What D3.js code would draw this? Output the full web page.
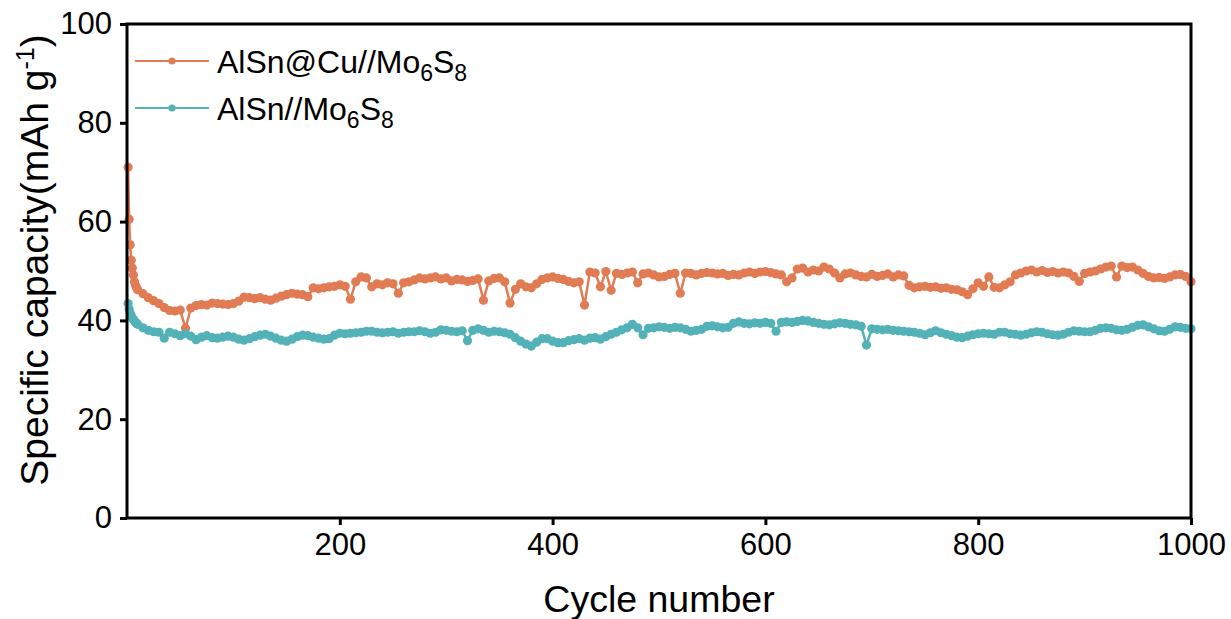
<!DOCTYPE html>
<html>
<head>
<meta charset="utf-8">
<script src="https://cdn.jsdelivr.net/npm/d3@7"></script>
<style>
  body { margin: 0; background: #fff; }
  text { font-family: Arial, "Liberation Sans", sans-serif; fill: #000; }
</style>
</head>
<body>
<div class="container"></div>
<script>
const width = 1231, height = 619;
const margin = {left: 127, right: 40, top: 24, bottom: 101};

// cycle numbers: first few cycles one by one, then every 5th cycle
const cycles = [1, 2, 3, 4, 5, 6, 7, 8, 9].concat(d3.range(10, 1001, 5));

const cuCapacity = [
  71.0, 60.5, 55.3, 52.2, 50.6, 49.2, 47.8, 47.1, 46.6,
  46.2, 45.4, 44.6, 44.0, 43.4, 42.6, 42.0, 41.9, 42.1, 38.4,
  42.5, 43.0, 43.2, 43.1, 43.5, 43.4, 43.3, 43.2, 43.4, 43.9,
  44.7, 44.6, 44.4, 44.6, 44.3, 44.1, 44.5, 44.9, 45.2, 45.5,
  45.3, 45.2, 44.8, 46.6, 46.4, 46.6, 46.8, 46.9, 47.2, 46.9,
  44.3, 47.8, 48.8, 48.6, 46.8, 47.4, 47.2, 47.6, 47.4, 45.5,
  47.6, 47.8, 48.2, 48.6, 48.4, 48.6, 48.8, 48.4, 48.6, 48.0,
  48.3, 48.2, 47.9, 48.1, 48.4, 44.1, 48.0, 48.5, 48.6, 47.8,
  43.5, 46.3, 47.4, 46.8, 46.6, 47.4, 48.3, 48.6, 48.8, 48.5,
  48.3, 47.9, 47.6, 47.8, 43.1, 49.8, 49.6, 46.8, 49.9, 46.1,
  49.5, 49.3, 49.6, 49.8, 47.6, 49.4, 49.6, 49.2, 48.8, 48.9,
  49.3, 49.5, 45.5, 49.6, 49.5, 49.2, 49.5, 49.7, 49.6, 49.4,
  49.5, 49.1, 49.3, 49.2, 49.6, 49.8, 49.5, 49.8, 49.9, 49.7,
  49.4, 49.2, 47.8, 48.6, 50.4, 50.6, 49.8, 50.2, 50.0, 50.8,
  50.4, 49.6, 48.6, 49.4, 49.6, 49.2, 48.9, 48.8, 49.3, 48.9,
  49.1, 49.4, 48.8, 49.2, 49.0, 47.1, 46.6, 46.8, 46.9, 46.7,
  46.8, 46.5, 46.6, 46.3, 46.2, 45.8, 45.2, 46.4, 47.6, 46.9,
  48.8, 46.7, 46.6, 47.2, 47.8, 49.2, 49.6, 50.0, 50.2, 49.8,
  50.1, 49.7, 49.9, 49.6, 49.8, 49.6, 48.9, 47.9, 49.5, 49.8,
  50.0, 50.4, 50.8, 51.0, 48.8, 51.0, 50.7, 50.8, 50.2, 49.5,
  48.9, 48.6, 48.7, 48.5, 48.8, 49.2, 49.3, 48.9, 47.8
];

const snCapacity = [
  43.4, 42.3, 41.5, 40.9, 40.5, 40.2, 39.9, 39.6, 39.4,
  39.2, 38.5, 38.0, 37.7, 37.6, 36.4, 37.6, 37.3, 36.9, 37.3,
  36.8, 36.1, 36.6, 36.9, 36.5, 36.4, 36.6, 36.8, 36.6, 36.2,
  36.0, 36.3, 36.7, 37.0, 37.2, 36.8, 36.4, 36.0, 35.8, 36.2,
  36.7, 37.0, 36.9, 36.6, 36.4, 36.2, 36.3, 37.0, 37.4, 37.3,
  37.4, 37.5, 37.6, 37.8, 37.8, 37.6, 37.5, 37.6, 37.7, 37.4,
  37.6, 37.7, 37.7, 37.9, 37.7, 37.4, 37.6, 38.1, 38.0, 37.8,
  37.7, 37.9, 35.9, 38.0, 38.3, 38.0, 37.6, 37.8, 37.7, 37.5,
  37.2, 36.5, 35.8, 35.2, 34.8, 35.6, 36.3, 36.3, 35.8, 35.5,
  35.5, 35.9, 36.1, 36.3, 36.0, 36.4, 36.5, 36.2, 36.7, 37.2,
  37.6, 38.1, 38.5, 39.2, 38.5, 37.1, 38.4, 38.5, 38.7, 38.6,
  38.4, 38.6, 38.5, 38.2, 37.8, 38.0, 38.2, 38.8, 38.9, 38.7,
  38.5, 38.6, 39.4, 39.7, 39.4, 39.3, 39.5, 39.4, 39.6, 39.4,
  37.8, 39.6, 39.7, 39.6, 39.8, 40.0, 39.9, 39.6, 39.4, 39.2,
  39.1, 39.3, 39.5, 39.4, 39.2, 39.1, 38.8, 35.0, 38.3, 38.2,
  38.1, 38.2, 38.0, 37.9, 37.8, 37.7, 37.6, 37.4, 37.1, 37.5,
  37.9, 37.5, 37.2, 36.9, 36.6, 36.5, 36.8, 37.1, 37.3, 37.4,
  37.3, 37.2, 37.6, 37.6, 37.3, 37.2, 37.0, 37.2, 37.5, 37.7,
  37.6, 37.3, 37.1, 37.0, 37.2, 37.6, 37.9, 37.8, 37.7, 37.7,
  38.0, 38.4, 38.5, 38.4, 38.1, 38.0, 38.2, 38.6, 39.0, 39.1,
  38.7, 38.3, 37.9, 37.8, 38.2, 38.7, 38.6, 38.4, 38.3
];

const xTicks = [200, 400, 600, 800, 1000];
const yTicks = [0, 20, 40, 60, 80, 100];

const series = [
  {name: "AlSn@Cu//Mo", sub1: "6", mid: "S", sub2: "8", values: cuCapacity, color: "#E17B53"},
  {name: "AlSn//Mo", sub1: "6", mid: "S", sub2: "8", values: snCapacity, color: "#52B2B8"}
];

const svg = d3.select(".container")
    .append("svg")
    .attr("width", width)
    .attr("height", height);

const x = d3.scaleLinear().domain([0, 1000]).range([margin.left, width - margin.right]);
const y = d3.scaleLinear().domain([0, 100]).range([height - margin.bottom, margin.top]);

const line = d3.line()
    .x((d, i) => x(cycles[i]))
    .y(d => y(d));

// data
series.forEach(s => {
    const g = svg.append("g");
    g.append("path")
        .datum(s.values)
        .attr("fill", "none")
        .attr("stroke", s.color)
        .attr("stroke-width", 2.5)
        .attr("d", line);
    g.selectAll("circle")
        .data(s.values)
        .enter()
        .append("circle")
        .attr("cx", (d, i) => x(cycles[i]))
        .attr("cy", d => y(d))
        .attr("r", 4.6)
        .attr("fill", s.color);
});

// frame
svg.append("rect")
    .attr("x", x(0))
    .attr("y", y(100))
    .attr("width", x(1000) - x(0))
    .attr("height", y(0) - y(100))
    .attr("fill", "none")
    .attr("stroke", "#000")
    .attr("stroke-width", 3);

const xAxis = svg.append("g")
    .attr("transform", `translate(0,${y(0)})`)
    .call(d3.axisBottom(x).tickValues(xTicks).tickFormat(d3.format("d")).tickSize(7).tickPadding(8));
const yAxis = svg.append("g")
    .attr("transform", `translate(${x(0)},0)`)
    .call(d3.axisLeft(y).tickValues(yTicks).tickSize(7).tickPadding(8));

[xAxis, yAxis].forEach(a => {
    a.select(".domain").remove();
    a.selectAll(".tick line").attr("stroke", "#000").attr("stroke-width", 3);
    a.selectAll(".tick text")
        .style("font-family", "Arial, 'Liberation Sans', sans-serif")
        .style("font-size", "31px")
        .attr("fill", "#000");
});

// axis titles
svg.append("text")
    .attr("x", (x(0) + x(1000)) / 2)
    .attr("y", 612)
    .attr("text-anchor", "middle")
    .style("font-size", "37.5px")
    .text("Cycle number");

const yTitle = svg.append("text")
    .attr("transform", `translate(48,260) rotate(-90)`)
    .attr("text-anchor", "middle")
    .style("font-size", "39px");
yTitle.append("tspan").text("Specific capacity(mAh g");
yTitle.append("tspan").attr("dy", -14).style("font-size", "25px").text("-1");
yTitle.append("tspan").attr("dy", 14).text(")");

// legend
const legend = svg.append("g");
series.forEach((s, i) => {
    const ly = 61 + i * 47;
    legend.append("line")
        .attr("x1", 135).attr("x2", 209)
        .attr("y1", ly).attr("y2", ly)
        .attr("stroke", s.color)
        .attr("stroke-width", 2);
    legend.append("circle")
        .attr("cx", 172).attr("cy", ly)
        .attr("r", 3.6)
        .attr("fill", s.color);
    const t = legend.append("text")
        .attr("x", 217)
        .attr("y", ly + 12)
        .style("font-size", "32px");
    t.append("tspan").text(s.name);
    t.append("tspan").attr("dy", 8).style("font-size", "23px").text(s.sub1);
    t.append("tspan").attr("dy", -8).text(s.mid);
    t.append("tspan").attr("dy", 8).style("font-size", "23px").text(s.sub2);
});
</script>
</body>
</html>
